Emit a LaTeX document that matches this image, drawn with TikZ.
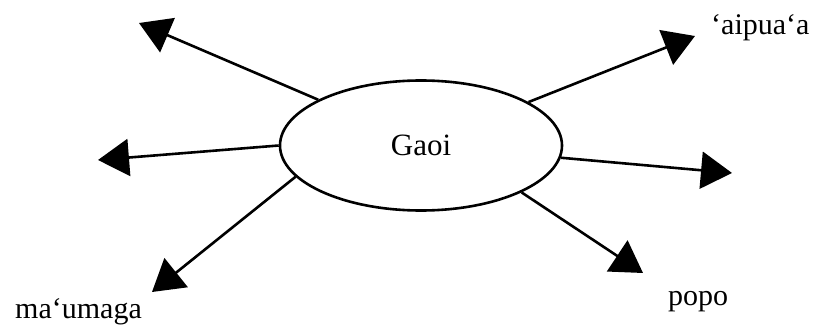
\documentclass[tikz,border=0pt]{standalone}
\usepackage{fontspec}
\setmainfont{Liberation Serif}
\usetikzlibrary{arrows.meta,shapes.geometric}
\begin{document}
\begin{tikzpicture}[x=1pt,y=-1pt,
  conn/.style={line width=2.6pt,-{Triangle[length=31pt,width=37pt]}},
  lbl/.style={inner sep=0pt,font=\fontsize{30}{34}\selectfont,anchor=base west},
  hub/.style={ellipse,draw,line width=2.6pt,minimum width=282pt,minimum height=130pt,inner sep=0pt,font=\fontsize{31}{34}\selectfont}]
\useasboundingbox (0,0) rectangle (818,326);
\node[hub] (g) at (421,145.5) {Gaoi};
\coordinate (tul) at (139,23);
\coordinate (tl) at (98,160);
\coordinate (tll) at (152,292);
\coordinate (tur) at (695,36);
\coordinate (tr) at (732,173);
\coordinate (tlr) at (643,273);
\node[lbl] (aip) at (711,35) {‘aipua‘a};
\node[lbl] (mau) at (15,318) {ma‘umaga};
\node[lbl] (pop) at (668,305) {popo};
\draw[conn] (g.156.4) -- (tul);
\draw[conn] (g.180) -- (tl);
\draw[conn] (g.194.8) -- (tll);
\draw[conn] (g.22.8) -- (tur);
\draw[conn] (g.355.7) -- (tr);
\draw[conn] (g.335.7) -- (tlr);
\end{tikzpicture}
\end{document}
